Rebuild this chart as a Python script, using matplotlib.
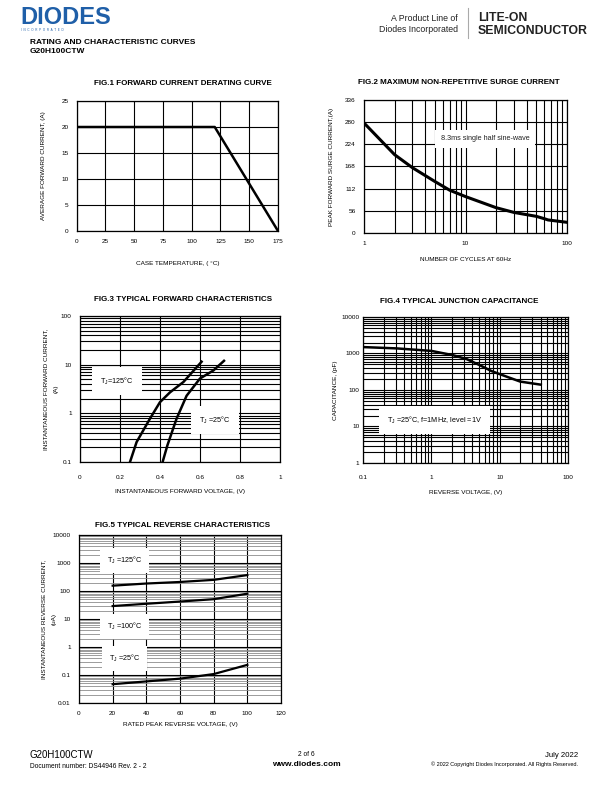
import matplotlib
matplotlib.use("Agg")
import matplotlib.pyplot as plt
from matplotlib import font_manager
from matplotlib.ticker import NullFormatter, LogLocator

plt.rcParams['font.family'] = ['Liberation Sans', 'DejaVu Sans']
plt.rcParams['mathtext.fontset'] = 'custom'
plt.rcParams['mathtext.rm'] = 'Liberation Sans'

installed = {f.name for f in font_manager.fontManager.ttflist}
NARROW = 'Liberation Sans Narrow' if 'Liberation Sans Narrow' in installed else None

# fig.1 derating
derate_temp = [0, 120, 175]
derate_amp = [20, 20, 0]

# fig.2 surge
surge_cycles = [1, 2, 3, 5, 7, 10, 20, 30, 50, 60, 65, 100]
surge_amp = [278, 198, 165, 130, 108, 92, 64, 52, 42, 36, 33, 27]

# fig.3 forward characteristics
vf_125 = [0.25, 0.283, 0.35, 0.40, 0.45, 0.517, 0.608]
if_125 = [0.1, 0.257, 0.78, 1.7, 2.7, 4.4, 11.5]
vf_25 = [0.413, 0.437, 0.483, 0.533, 0.60, 0.667, 0.72]
if_25 = [0.1, 0.22, 0.78, 2.3, 5.2, 7.6, 12]

# fig.4 capacitance
vr_cap = [0.1, 0.31, 1, 2.07, 3.3, 5.1, 7.6, 12.8, 20, 40]
cap_pf = [1500, 1380, 1180, 900, 700, 480, 330, 230, 170, 140]

# fig.5 reverse characteristics
vr_rev = [20, 40, 60, 80, 100]
ir_125 = [155, 185, 210, 250, 370]
ir_100 = [29, 35, 42, 51, 80]
ir_25 = [0.047, 0.059, 0.074, 0.108, 0.23]

W, H = 612, 792
fig = plt.figure(figsize=(W / 100, H / 100), dpi=100)

def box(l, r, t, b):
    return fig.add_axes([l / W, 1 - b / H, (r - l) / W, (b - t) / H])

def ftext(x, y, s, **kw):
    fig.text(x / W, 1 - y / H, s, **kw)

TICK = 4.6
LAB = 4.6
TITLE = 5.8
GRID = dict(color='black', linewidth=0.8)
TBOX = dict(facecolor='white', edgecolor='none', pad=4)

def style(ax, xpad=6, ypad=6):
    ax.tick_params(which='both', length=0, labelsize=TICK)
    ax.tick_params(axis='x', pad=xpad)
    ax.tick_params(axis='y', pad=ypad)
    for s in ax.spines.values():
        s.set_linewidth(0.9)
    ax.set_axisbelow(True)

# ---- header
ftext(20, 24, 'DIODES', fontsize=17, fontweight='bold', color='#1f5fa8', va='baseline')
ftext(21, 31, 'I  N  C  O  R  P  O  R  A  T  E  D', fontsize=2.2, color='#1f5fa8', va='baseline')
if NARROW:
    hdr = dict(fontsize=7.2, fontweight='bold', va='baseline', family=[NARROW, 'DejaVu Sans'])
else:
    hdr = dict(fontsize=6.0, fontweight='bold', va='baseline')
ftext(30, 44, 'RATING AND CHARACTERISTIC CURVES', **hdr)
ftext(30, 53, 'G20H100CTW', **hdr)
ftext(458, 21, 'A Product Line of', fontsize=6.3, ha='right', va='baseline', color='#222222')
ftext(458, 32, 'Diodes Incorporated', fontsize=6.3, ha='right', va='baseline', color='#222222')
fig.add_artist(plt.Line2D([468 / W, 468 / W], [1 - 8 / H, 1 - 38 / H], color='#aaaaaa', lw=0.8))
ftext(478, 21, 'LITE-ON', fontsize=8.8, fontweight='bold', va='baseline', color='#222222')
ftext(478, 34, 'SEMICONDUCTOR', fontsize=8.8, fontweight='bold', va='baseline', color='#222222')

# ---- fig.1
ax = box(76.7, 278, 101, 231)
style(ax)
ax.plot(derate_temp, derate_amp, color='black', lw=1.8, solid_capstyle='butt')
ax.set_xlim(0, 175)
ax.set_ylim(0, 25)
ax.set_xticks(range(0, 176, 25))
ax.set_yticks(range(0, 26, 5))
ax.grid(True, **GRID)
ax.set_xlabel('CASE TEMPERATURE, ( °C)', fontsize=LAB, labelpad=12)
ax.set_ylabel('AVERAGE FORWARD CURRENT, (A)', fontsize=LAB, labelpad=11)
ftext(183, 85, 'FIG.1 FORWARD CURRENT DERATING CURVE', fontsize=TITLE, fontweight='bold', ha='center')

# ---- fig.2
ax = box(364, 567, 100, 233)
style(ax)
ax.plot(surge_cycles, surge_amp, color='black', lw=2.2)
ax.set_xscale('log')
ax.set_xlim(1, 100)
ax.set_ylim(0, 336)
ax.set_yticks(range(0, 337, 56))
ax.set_xticks([1, 10, 100])
ax.set_xticklabels(['1', '10', '100'])
ax.xaxis.set_minor_locator(LogLocator(subs=range(2, 10)))
ax.xaxis.set_minor_formatter(NullFormatter())
ax.grid(True, which='both', **GRID)
ax.text(15.6, 238, '8.3ms single half sine-wave', fontsize=5.2, ha='center', va='center', bbox=TBOX, color='#222222')
ax.set_xlabel('NUMBER OF CYCLES AT 60Hz', fontsize=LAB, labelpad=8)
ax.set_ylabel('PEAK FORWARD SURGE CURRENT,(A)', fontsize=LAB, labelpad=8)
ftext(459, 84, 'FIG.2 MAXIMUM NON-REPETITIVE SURGE CURRENT', fontsize=TITLE, fontweight='bold', ha='center')

# ---- fig.3
ax = box(80, 280, 316, 462)
style(ax, xpad=9)
ax.plot(vf_125, if_125, color='black', lw=1.8)
ax.plot(vf_25, if_25, color='black', lw=1.8)
ax.set_yscale('log')
ax.set_xlim(0, 1)
ax.set_ylim(0.1, 100)
ax.set_xticks([0, 0.2, 0.4, 0.6, 0.8, 1])
ax.set_xticklabels(['0', '0.2', '0.4', '0.6', '0.8', '1'])
ax.set_yticks([0.1, 1, 10, 100])
ax.set_yticklabels(['0.1', '1', '10', '100'])
ax.yaxis.set_minor_locator(LogLocator(subs=range(2, 10)))
ax.yaxis.set_minor_formatter(NullFormatter())
ax.grid(True, which='major', axis='x', **GRID)
ax.grid(True, which='both', axis='y', **GRID)
ax.text(0.185, 4.6, r'T$_\mathregular{J}$=125°C', fontsize=5.2, ha='center', va='center',
        bbox=dict(facecolor='white', edgecolor='none', pad=6))
ax.text(0.675, 0.72, r'T$_\mathregular{J}$ =25°C', fontsize=5.2, ha='center', va='center',
        bbox=dict(facecolor='white', edgecolor='none', pad=6))
ax.set_xlabel('INSTANTANEOUS FORWARD VOLTAGE, (V)', fontsize=LAB, labelpad=7)
ax.set_ylabel('INSTANTANEOUS FORWARD CURRENT,\n(A)', fontsize=LAB, linespacing=2.4)
ax.yaxis.set_label_coords(-0.108, 0.5)
ftext(183, 301, 'FIG.3 TYPICAL FORWARD CHARACTERISTICS', fontsize=TITLE, fontweight='bold', ha='center')

# ---- fig.4
ax = box(363, 568, 317, 463)
style(ax, xpad=9, ypad=2.5)
ax.plot(vr_cap, cap_pf, color='black', lw=1.8)
ax.set_xscale('log')
ax.set_yscale('log')
ax.set_xlim(0.1, 100)
ax.set_ylim(1, 10000)
ax.set_xticks([0.1, 1, 10, 100])
ax.set_xticklabels(['0.1', '1', '10', '100'])
ax.set_yticks([1, 10, 100, 1000, 10000])
ax.set_yticklabels(['1', '10', '100', '1000', '10000'])
for a in (ax.xaxis, ax.yaxis):
    a.set_minor_locator(LogLocator(subs=range(2, 10)))
    a.set_minor_formatter(NullFormatter())
ax.grid(True, which='both', **GRID)
ax.text(1.12, 15, r'T$_\mathregular{J}$ =25°C, f=1MHz, level =1V', fontsize=5.2, ha='center', va='center',
        bbox=dict(facecolor='white', edgecolor='none', pad=6))
ax.set_xlabel('REVERSE VOLTAGE, (V)', fontsize=LAB, labelpad=7)
ax.set_ylabel('CAPACITANCE, (pF)', fontsize=LAB, labelpad=2.5)
ftext(459, 303, 'FIG.4 TYPICAL JUNCTION CAPACITANCE', fontsize=TITLE, fontweight='bold', ha='center')

# ---- fig.5
ax = box(79, 281, 535, 703)
style(ax)
for ir in (ir_125, ir_100, ir_25):
    ax.plot(vr_rev, ir, color='black', lw=1.6)
ax.set_yscale('log')
ax.set_xlim(0, 120)
ax.set_ylim(0.01, 10000)
ax.set_xticks(range(0, 121, 20))
ax.set_yticks([0.01, 0.1, 1, 10, 100, 1000, 10000])
ax.set_yticklabels(['0.01', '0.1', '1', '10', '100', '1000', '10000'])
ax.yaxis.set_minor_locator(LogLocator(subs=range(2, 10)))
ax.yaxis.set_minor_formatter(NullFormatter())
ax.grid(True, which='minor', axis='y', color='#8c8c8c', linewidth=0.6)
ax.grid(True, which='major', **GRID)
for y, s in [(1270, '125'), (5.4, '100'), (0.38, '25')]:
    ax.text(27, y, r'T$_\mathregular{J}$ =' + s + '°C', fontsize=5.2, ha='center', va='center',
            bbox=dict(facecolor='white', edgecolor='none', pad=5))
ax.set_xlabel('RATED PEAK REVERSE VOLTAGE, (V)', fontsize=LAB, labelpad=4)
ax.set_ylabel('INSTANTANEOUS REVERSE CURRENT,\n(uA)', fontsize=LAB, linespacing=2.3)
ax.yaxis.set_label_coords(-0.11, 0.5)
ftext(183, 527, 'FIG.5 TYPICAL REVERSE CHARACTERISTICS', fontsize=TITLE, fontweight='bold', ha='center')

# ---- footer
ftext(30, 758, 'G20H100CTW', fontsize=7, va='baseline')
ftext(30, 768, 'Document number: DS44946 Rev. 2 - 2', fontsize=4.8, va='baseline')
ftext(306, 756, '2 of 6', fontsize=4.8, ha='center', va='baseline')
ftext(306, 766, 'www.diodes.com', fontsize=6, fontweight='bold', ha='center', va='baseline')
ftext(578, 757, 'July 2022', fontsize=5.6, ha='right', va='baseline')
ftext(578, 766, '© 2022 Copyright Diodes Incorporated. All Rights Reserved.', fontsize=4, ha='right', va='baseline')

fig.savefig('out.png', dpi=100)
